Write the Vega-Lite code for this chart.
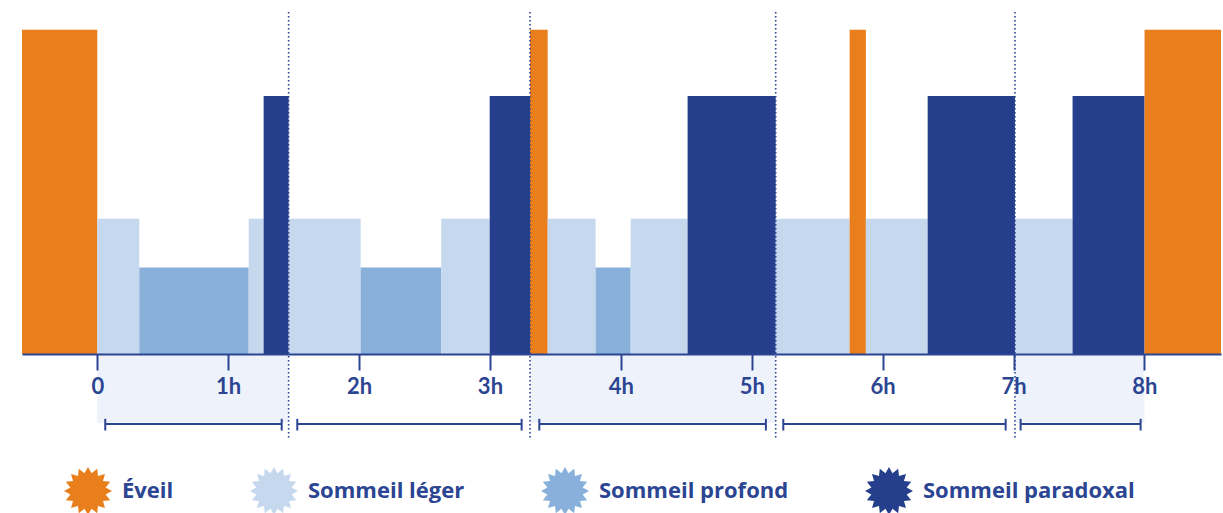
{
  "$schema": "https://vega.github.io/schema/vega-lite/v6.json",
  "autosize": {"type": "none"},
  "padding": {"left": 22, "top": 12, "right": 2, "bottom": 159},
  "width": 1199,
  "height": 342,
  "background": "white",
  "config": {"view": {"stroke": null}},
  "datasets": {
    "phases": [
      {"debut": -0.575, "fin": 0.0, "stade": "Éveil", "niveau": 100},
      {"debut": 0.0, "fin": 0.321, "stade": "Sommeil léger", "niveau": 41.7},
      {"debut": 0.321, "fin": 1.157, "stade": "Sommeil profond", "niveau": 26.7},
      {"debut": 1.157, "fin": 1.271, "stade": "Sommeil léger", "niveau": 41.7},
      {"debut": 1.271, "fin": 1.462, "stade": "Sommeil paradoxal", "niveau": 79.6},
      {"debut": 1.462, "fin": 2.012, "stade": "Sommeil léger", "niveau": 41.7},
      {"debut": 2.012, "fin": 2.628, "stade": "Sommeil profond", "niveau": 26.7},
      {"debut": 2.628, "fin": 2.998, "stade": "Sommeil léger", "niveau": 41.7},
      {"debut": 2.998, "fin": 3.306, "stade": "Sommeil paradoxal", "niveau": 79.6},
      {"debut": 3.306, "fin": 3.441, "stade": "Éveil", "niveau": 100},
      {"debut": 3.441, "fin": 3.807, "stade": "Sommeil léger", "niveau": 41.7},
      {"debut": 3.807, "fin": 4.075, "stade": "Sommeil profond", "niveau": 26.7},
      {"debut": 4.075, "fin": 4.51, "stade": "Sommeil léger", "niveau": 41.7},
      {"debut": 4.51, "fin": 5.183, "stade": "Sommeil paradoxal", "niveau": 79.6},
      {"debut": 5.183, "fin": 5.748, "stade": "Sommeil léger", "niveau": 41.7},
      {"debut": 5.748, "fin": 5.872, "stade": "Éveil", "niveau": 100},
      {"debut": 5.872, "fin": 6.344, "stade": "Sommeil léger", "niveau": 41.7},
      {"debut": 6.344, "fin": 7.011, "stade": "Sommeil paradoxal", "niveau": 79.6},
      {"debut": 7.011, "fin": 7.451, "stade": "Sommeil léger", "niveau": 41.7},
      {"debut": 7.451, "fin": 8.001, "stade": "Sommeil paradoxal", "niveau": 79.6},
      {"debut": 8.001, "fin": 8.585, "stade": "Éveil", "niveau": 100}
    ],
    "cycles": [
      {"cycle": 1, "debut": 0.0, "fin": 1.462, "b_debut": 0.061, "b_fin": 1.409, "fond": true},
      {"cycle": 2, "debut": 1.462, "fin": 3.306, "b_debut": 1.528, "b_fin": 3.242, "fond": false},
      {"cycle": 3, "debut": 3.306, "fin": 5.183, "b_debut": 3.377, "b_fin": 5.108, "fond": true},
      {"cycle": 4, "debut": 5.183, "fin": 7.011, "b_debut": 5.241, "b_fin": 6.94, "fond": false},
      {"cycle": 5, "debut": 7.011, "fin": 8.0, "b_debut": 7.054, "b_fin": 7.971, "fond": true}
    ],
    "limites": [
      {"heure": 1.462},
      {"heure": 3.306},
      {"heure": 5.183},
      {"heure": 7.011}
    ]
  },
  "layer": [
    {
      "data": {"name": "phases"},
      "mark": {"type": "rect"},
      "encoding": {
        "x": {
          "field": "debut", "type": "quantitative",
          "scale": {"domain": [-0.575, 8.585], "nice": false, "zero": false},
          "axis": {
            "values": [0, 1, 2, 3, 4, 5, 6, 7, 8],
            "labelExpr": "datum.value == 0 ? '0' : datum.value + 'h'",
            "title": null,
            "grid": false,
            "zindex": 1,
            "domainColor": "#2C4592",
            "domainWidth": 2,
            "tickColor": "#2C4592",
            "tickWidth": 2,
            "tickSize": 16,
            "labelFont": "Lato",
            "labelFontSize": 22,
            "labelFontWeight": "bold",
            "labelColor": "#2C4592",
            "labelPadding": 6,
            "labelFlush": false,
            "labelOverlap": false
          }
        },
        "x2": {"field": "fin"},
        "y": {
          "field": "niveau", "type": "quantitative",
          "scale": {"domain": [0, 105.5], "nice": false, "zero": false},
          "axis": null
        },
        "y2": {"datum": 0},
        "color": {
          "field": "stade", "type": "nominal",
          "scale": {
            "domain": ["Éveil", "Sommeil léger", "Sommeil profond", "Sommeil paradoxal"],
            "range": ["#E97E1C", "#C6D8EE", "#89B0DB", "#253F8D"]
          },
          "legend": {
            "title": null,
            "orient": "none",
            "legendX": 42,
            "legendY": 455,
            "direction": "horizontal",
            "columnPadding": 76,
            "labelOffset": 10,
            "labelFont": "Open Sans",
            "labelFontSize": 22,
            "labelFontWeight": "bold",
            "labelColor": "#2C4592",
            "labelLimit": 400,
            "symbolType": "M1,0L.7356,.1463L.9239,.3827L.6236,.4167L.7071,.7071L.4167,.6236L.3827,.9239L.1463,.7356L0,1L-.1463,.7356L-.3827,.9239L-.4167,.6236L-.7071,.7071L-.6236,.4167L-.9239,.3827L-.7356,.1463L-1,0L-.7356,-.1463L-.9239,-.3827L-.6236,-.4167L-.7071,-.7071L-.4167,-.6236L-.3827,-.9239L-.1463,-.7356L0,-1L.1463,-.7356L.3827,-.9239L.4167,-.6236L.7071,-.7071L.6236,-.4167L.9239,-.3827L.7356,-.1463Z",
            "symbolSize": 2304,
            "symbolStrokeWidth": 0,
            "symbolOpacity": 1
          }
        }
      }
    },
    {
      "data": {"name": "cycles"},
      "transform": [{"filter": "datum.fond"}],
      "mark": {"type": "rect", "color": "#EEF3FB"},
      "encoding": {
        "x": {"field": "debut", "type": "quantitative"},
        "x2": {"field": "fin"},
        "y": {"datum": 0},
        "y2": {"datum": -21.2}
      }
    },
    {
      "data": {"name": "cycles"},
      "mark": {"type": "rule", "color": "#2C4592", "strokeWidth": 2},
      "encoding": {
        "x": {"field": "b_debut", "type": "quantitative"},
        "x2": {"field": "b_fin"},
        "y": {"datum": -21.6}
      }
    },
    {
      "data": {"name": "cycles"},
      "transform": [{"fold": ["b_debut", "b_fin"], "as": ["bord", "heure"]}],
      "mark": {"type": "rule", "color": "#2C4592", "strokeWidth": 2},
      "encoding": {
        "x": {"field": "heure", "type": "quantitative"},
        "y": {"datum": -20.0},
        "y2": {"datum": -23.6}
      }
    },
    {
      "data": {"name": "limites"},
      "mark": {"type": "rule", "color": "#2C4592", "strokeWidth": 1.6, "strokeDash": [1.6, 2.4]},
      "encoding": {
        "x": {"field": "heure", "type": "quantitative"},
        "y": {"datum": 105.5},
        "y2": {"datum": -25.8}
      }
    }
  ]
}
